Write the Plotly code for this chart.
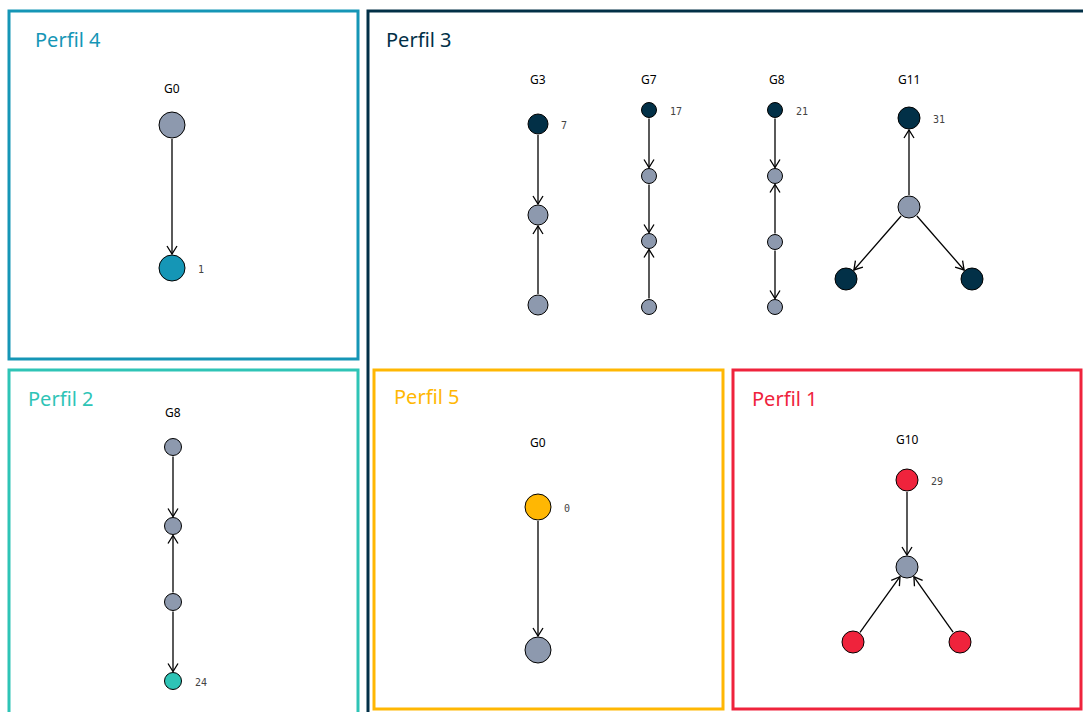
import math
import plotly.graph_objects as go

W, H = 1083, 712

GRAY = "#8d99ae"
NAVY = "#023047"
BLUE = "#1596b6"
TEAL = "#2ec4b6"
YELLOW = "#ffb703"
RED = "#ef233c"

# panels: title, colour, box (x0, y0, x1, y1), title anchor
PANEL_TITLES = ["Perfil 4", "Perfil 3", "Perfil 2", "Perfil 5", "Perfil 1"]
PANEL_COLORS = [BLUE, NAVY, TEAL, YELLOW, RED]
PANEL_BOX = [(9, 11, 358, 359), (368, 11, 1095, 725), (9, 370, 358, 725),
             (374, 370, 723, 709), (733, 370, 1081, 709)]
PANEL_TITLE_XY = [(33, 39), (384, 39), (26, 398), (392, 396), (750, 398)]

# graphs: name, name position, node positions, node sizes, colours, edges, count label
G_NAMES = ["G0", "G3", "G7", "G8", "G11", "G8", "G0", "G10"]
G_NAME_XY = [(172, 88), (538, 79), (649, 79), (777, 79), (909, 79),
             (173, 412), (538, 442), (907, 439)]

G_NODE_X = [
    [172, 172],
    [538, 538, 538],
    [649, 649, 649, 649],
    [775, 775, 775, 775],
    [909, 909, 846, 972],
    [173, 173, 173, 173],
    [538, 538],
    [907, 907, 853, 960],
]
G_NODE_Y = [
    [125, 268],
    [124, 215, 305],
    [110, 176, 241, 307],
    [110, 176, 242, 307],
    [118, 207, 279, 279],
    [447, 526, 602, 681],
    [507, 650],
    [480, 567, 642, 642],
]
G_NODE_SIZE = [
    [26, 26],
    [20, 20, 20],
    [15, 15, 15, 15],
    [15, 15, 15, 15],
    [22, 22, 22, 22],
    [17, 17, 17, 17],
    [26, 26],
    [22, 22, 22, 22],
]
G_NODE_COLOR = [
    [GRAY, BLUE],
    [NAVY, GRAY, GRAY],
    [NAVY, GRAY, GRAY, GRAY],
    [NAVY, GRAY, GRAY, GRAY],
    [NAVY, GRAY, NAVY, NAVY],
    [GRAY, GRAY, GRAY, TEAL],
    [YELLOW, GRAY],
    [RED, GRAY, RED, RED],
]
G_EDGES = [
    [(0, 1)],
    [(0, 1), (2, 1)],
    [(0, 1), (1, 2), (3, 2)],
    [(0, 1), (2, 1), (2, 3)],
    [(1, 0), (1, 2), (1, 3)],
    [(0, 1), (2, 1), (2, 3)],
    [(0, 1)],
    [(0, 1), (2, 1), (3, 1)],
]
G_COUNT_NODE = [1, 0, 0, 0, 0, 3, 0, 0]
G_COUNT = ["1", "7", "17", "21", "31", "24", "0", "29"]

fig = go.Figure()

# panel frames
for (x0, y0, x1, y1), col in zip(PANEL_BOX, PANEL_COLORS):
    fig.add_shape(type="rect", x0=x0, y0=y0, x1=x1, y1=y1,
                  line=dict(color=col, width=3), layer="below")

for (tx, ty), txt, col in zip(PANEL_TITLE_XY, PANEL_TITLES, PANEL_COLORS):
    fig.add_annotation(x=tx, y=ty, text=txt, showarrow=False, xanchor="left",
                       font=dict(family="Noto Sans", size=20, color=col))

# edges with open chevron heads
ex, ey = [], []
for xs, ys, ss, edges in zip(G_NODE_X, G_NODE_Y, G_NODE_SIZE, G_EDGES):
    for s, t in edges:
        dx, dy = xs[t] - xs[s], ys[t] - ys[s]
        d = math.hypot(dx, dy)
        ux, uy = dx / d, dy / d
        nx, ny = -uy, ux
        sx, sy = xs[s] + ux * (ss[s] / 2 + 1), ys[s] + uy * (ss[s] / 2 + 1)
        tx, ty = xs[t] - ux * (ss[t] / 2 + 1), ys[t] - uy * (ss[t] / 2 + 1)
        ex += [sx, tx, None]
        ey += [sy, ty, None]
        L, Wd = 8, 5
        ex += [tx - ux * L + nx * Wd, tx, tx - ux * L - nx * Wd, None]
        ey += [ty - uy * L + ny * Wd, ty, ty - uy * L - ny * Wd, None]

fig.add_trace(go.Scatter(x=ex, y=ey, mode="lines", hoverinfo="skip",
                         line=dict(color="black", width=1.3)))

# nodes
for xs, ys, ss, cs in zip(G_NODE_X, G_NODE_Y, G_NODE_SIZE, G_NODE_COLOR):
    fig.add_trace(go.Scatter(x=xs, y=ys, mode="markers",
                             marker=dict(size=ss, color=cs, opacity=1,
                                         line=dict(color="black", width=1))))

# graph names and counts
for (gx, gy), name in zip(G_NAME_XY, G_NAMES):
    fig.add_annotation(x=gx, y=gy, text=name, showarrow=False,
                       font=dict(family="Noto Sans", size=12, color="black"))

for xs, ys, ss, k, cnt in zip(G_NODE_X, G_NODE_Y, G_NODE_SIZE, G_COUNT_NODE, G_COUNT):
    fig.add_annotation(x=xs[k] + ss[k] / 2 + 11, y=ys[k] + 1, text=cnt, showarrow=False,
                       xanchor="left",
                       font=dict(family="DejaVu Sans Mono", size=10, color="#444444"))

fig.update_layout(
    width=W, height=H, autosize=False,
    margin=dict(l=0, r=0, t=0, b=0),
    paper_bgcolor="white", plot_bgcolor="white",
    showlegend=False,
    xaxis=dict(range=[0, W], visible=False, fixedrange=True),
    yaxis=dict(range=[H, 0], visible=False, fixedrange=True),
)

fig.write_html("out.html", config={"displayModeBar": False})

# drop the browser's default page margin so the figure sits at 0,0
with open("out.html", encoding="utf-8") as f:
    page = f.read()
page = page.replace("<head>", "<head><style>body{margin:0;overflow:hidden}</style>", 1)
with open("out.html", "w", encoding="utf-8") as f:
    f.write(page)
